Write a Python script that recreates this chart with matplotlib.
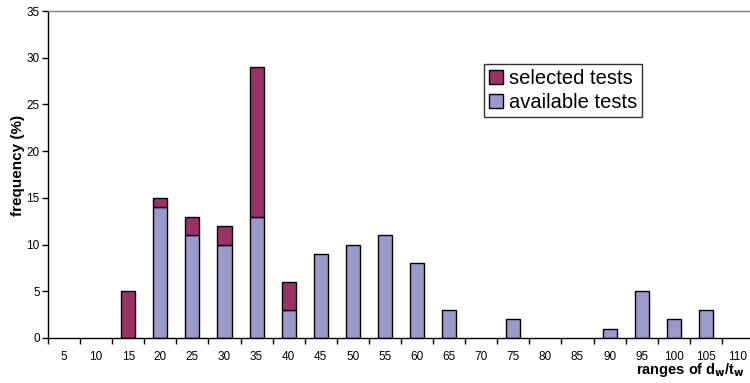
import matplotlib
matplotlib.use("Agg")
import matplotlib.pyplot as plt
import numpy as np
from matplotlib.patches import Patch

plt.rcParams['font.family'] = ['Liberation Sans', 'DejaVu Sans']

# ranges of d_w/t_w (category labels)
ranges = [5, 10, 15, 20, 25, 30, 35, 40, 45, 50, 55, 60, 65, 70, 75, 80, 85, 90, 95, 100, 105, 110]
# frequency (%) of available tests per range
available = [0, 0, 0, 14, 11, 10, 13, 3, 9, 10, 11, 8, 3, 0, 2, 0, 0, 1, 5, 2, 3, 0]
# frequency (%) of selected tests, stacked on top
selected = [0, 0, 5, 1, 2, 2, 16, 3, 0, 0, 0, 0, 0, 0, 0, 0, 0, 0, 0, 0, 0, 0]

col_sel = '#993366'
col_av = '#9999CC'

fig = plt.figure(figsize=(7.5, 3.83), dpi=100)
ax = fig.add_axes([48 / 750, 1 - 338 / 383, 706 / 750, 327 / 383])

x = np.arange(len(ranges))
w = 0.44
for i in x:
    if available[i] > 0:
        ax.bar(i, available[i], width=w, color=col_av, edgecolor='black', linewidth=1.0, zorder=2)
    if selected[i] > 0:
        ax.bar(i, selected[i], bottom=available[i], width=w, color=col_sel,
               edgecolor='black', linewidth=1.0, zorder=2)

ax.set_xlim(-0.5, len(ranges) - 0.5)
ax.set_ylim(0, 35)
ax.set_yticks(np.arange(0, 36, 5))
ax.tick_params(axis='y', direction='out', length=4, width=1, labelsize=8.5, pad=2)

# category labels centred, tick marks on category boundaries
ax.set_xticks(np.arange(-0.5, len(ranges), 1.0))
ax.set_xticklabels([])
ax.set_xticks(x, minor=True)
ax.set_xticklabels([str(r) for r in ranges], minor=True)
ax.tick_params(axis='x', which='major', direction='out', length=4, width=1)
ax.tick_params(axis='x', which='minor', length=0, labelsize=8.5, pad=9)

for s in ['left', 'bottom']:
    ax.spines[s].set_color('black')
    ax.spines[s].set_linewidth(1.0)
ax.spines['top'].set_color('#808080')
ax.spines['top'].set_linewidth(1.0)
ax.spines['right'].set_visible(False)

fig.text(18 / 750, 1 - 165 / 383, 'frequency (%)', rotation=90, ha='center', va='center',
         fontsize=11, fontweight='bold')
fig.text(745 / 750, 1 - 370 / 383, r'ranges of d$_\mathbf{w}$/t$_\mathbf{w}$', ha='right', va='center',
         fontsize=10.5, fontweight='bold')

handles = [Patch(facecolor=col_sel, edgecolor='black', linewidth=1.0, label='selected tests'),
           Patch(facecolor=col_av, edgecolor='black', linewidth=1.0, label='available tests')]
leg = ax.legend(handles=handles, loc='upper left', bbox_to_anchor=(484 / 750, 1 - 64 / 383),
                bbox_transform=fig.transFigure, fontsize=14.5, frameon=True, fancybox=False,
                edgecolor='black', handlelength=0.7, handleheight=0.7, handletextpad=0.3,
                borderpad=0.25, labelspacing=0.25, borderaxespad=0)
leg.get_frame().set_linewidth(1.0)

fig.savefig('out.png', dpi=100)
